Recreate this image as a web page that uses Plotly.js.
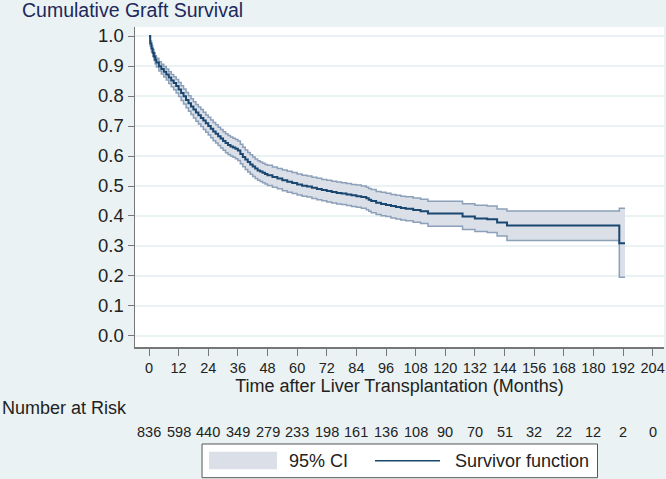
<!DOCTYPE html>
<html>
<head>
<meta charset="utf-8">
<script src="https://cdn.plot.ly/plotly-3.0.1.min.js"></script>
<style>html,body{margin:0;padding:0;background:rgb(234,242,243);}#chart{width:666px;height:479px;}</style>
</head>
<body>
<div id="chart"></div>
<script>
// Kaplan-Meier estimate (months after transplantation)
const timeMonths = [0, 0.5, 1, 1.5, 2, 2.5, 3, 4, 5, 6, 7, 8, 9, 10, 11, 12, 13, 14, 15, 16, 17, 18, 19, 20, 21, 22, 23, 24, 25, 26, 27, 28, 29, 30, 31, 32, 33, 34, 35, 36, 37, 38, 39, 40, 41, 42, 43, 44, 45, 46, 47, 48,
  50, 52, 54, 56, 58, 60, 62, 64, 66, 68, 70, 72, 74, 76, 78, 80, 82, 84, 86, 88, 89, 90, 92, 94, 96, 98, 100, 102, 104, 107, 110, 113, 127, 132, 137, 141, 145, 190.5, 192.8];
const survival = [1.0, 0.975, 0.958, 0.944, 0.932, 0.921, 0.912, 0.899, 0.890, 0.881, 0.872, 0.862, 0.852, 0.843, 0.833, 0.822, 0.810, 0.799, 0.787, 0.776, 0.765, 0.755, 0.745, 0.736, 0.727, 0.718, 0.709, 0.700, 0.691, 0.682, 0.674, 0.666, 0.658, 0.650, 0.643, 0.637, 0.632, 0.628, 0.624, 0.618, 0.607, 0.597, 0.588, 0.580, 0.572, 0.565, 0.558, 0.552, 0.548, 0.544, 0.540, 0.536,
  0.530, 0.525, 0.519, 0.514, 0.510, 0.505, 0.501, 0.498, 0.494, 0.490, 0.487, 0.483, 0.480, 0.477, 0.475, 0.472, 0.469, 0.466, 0.463, 0.459, 0.454, 0.450, 0.444, 0.440, 0.437, 0.433, 0.430, 0.427, 0.424, 0.420, 0.416, 0.408, 0.398, 0.392, 0.389, 0.378, 0.368, 0.309, 0.309];
const ciUpper = [1.0, 0.983, 0.968, 0.955, 0.944, 0.934, 0.926, 0.914, 0.906, 0.898, 0.890, 0.881, 0.872, 0.864, 0.855, 0.845, 0.834, 0.823, 0.812, 0.801, 0.791, 0.781, 0.772, 0.763, 0.755, 0.746, 0.737, 0.729, 0.720, 0.712, 0.704, 0.696, 0.688, 0.681, 0.674, 0.668, 0.663, 0.659, 0.655, 0.650, 0.639, 0.629, 0.620, 0.612, 0.604, 0.597, 0.590, 0.584, 0.580, 0.576, 0.572, 0.569,
  0.563, 0.558, 0.553, 0.549, 0.545, 0.540, 0.536, 0.533, 0.529, 0.526, 0.522, 0.519, 0.516, 0.513, 0.511, 0.508, 0.505, 0.503, 0.500, 0.496, 0.492, 0.488, 0.482, 0.479, 0.476, 0.472, 0.469, 0.466, 0.464, 0.460, 0.456, 0.449, 0.441, 0.436, 0.433, 0.423, 0.417, 0.426, 0.426];
const ciLower = [1.0, 0.966, 0.947, 0.932, 0.919, 0.907, 0.897, 0.883, 0.873, 0.863, 0.853, 0.842, 0.831, 0.821, 0.810, 0.798, 0.785, 0.773, 0.761, 0.749, 0.738, 0.727, 0.716, 0.707, 0.698, 0.688, 0.679, 0.670, 0.661, 0.651, 0.643, 0.635, 0.627, 0.619, 0.611, 0.605, 0.600, 0.596, 0.591, 0.585, 0.574, 0.564, 0.555, 0.547, 0.539, 0.532, 0.525, 0.519, 0.515, 0.511, 0.507, 0.502,
  0.496, 0.491, 0.484, 0.479, 0.475, 0.470, 0.466, 0.463, 0.458, 0.454, 0.451, 0.447, 0.443, 0.440, 0.438, 0.435, 0.432, 0.429, 0.426, 0.421, 0.416, 0.411, 0.405, 0.401, 0.398, 0.393, 0.390, 0.387, 0.384, 0.379, 0.375, 0.366, 0.355, 0.348, 0.345, 0.333, 0.318, 0.196, 0.196];

// Number at risk table
const riskTimes = [0, 12, 24, 36, 48, 60, 72, 84, 96, 108, 120, 132, 144, 156, 168, 180, 192, 204];
const riskCounts = [836, 598, 440, 349, 279, 233, 198, 161, 136, 108, 90, 70, 51, 32, 22, 12, 2, 0];

const titleText = "Cumulative Graft Survival";
const xTitle = "Time after Liver Transplantation (Months)";
const riskLabel = "Number at Risk";
const legendLabels = ["95% CI", "Survivor function"];

const FONT = "Liberation Sans, Arial, sans-serif";
const NAVY = "rgb(26,71,111)";
const BAND = "rgb(218,223,232)";
const BANDEDGE = "rgb(140,160,185)";
const BG = "rgb(234,242,243)";

const traces = [
  {x: timeMonths, y: ciLower, mode: "lines", line: {shape: "hv", color: BANDEDGE, width: 1.5}, hoverinfo: "skip", showlegend: false},
  {x: timeMonths, y: ciUpper, mode: "lines", line: {shape: "hv", color: BANDEDGE, width: 1.5}, fill: "tonexty", fillcolor: BAND, hoverinfo: "skip", showlegend: false},
  {x: timeMonths, y: survival, mode: "lines", line: {shape: "hv", color: NAVY, width: 2}, showlegend: false}
];

const annotations = [];
riskTimes.forEach((t, i) => {
  annotations.push({x: t, xref: "x", y: -0.2656, yref: "paper", text: String(riskCounts[i]), showarrow: false,
    xanchor: "center", yanchor: "middle", font: {family: FONT, size: 14.5, color: "#222"}});
});
annotations.push({x: -0.2552, xref: "paper", y: -0.1906, yref: "paper", text: riskLabel, showarrow: false,
  xanchor: "left", yanchor: "middle", font: {family: FONT, size: 18, color: "#222"}});
annotations.push({x: 0.2873, xref: "paper", y: -0.3547, yref: "paper", text: legendLabels[0], showarrow: false,
  xanchor: "left", yanchor: "middle", font: {family: FONT, size: 18, color: "#222"}});
annotations.push({x: 0.6011, xref: "paper", y: -0.3547, yref: "paper", text: legendLabels[1], showarrow: false,
  xanchor: "left", yanchor: "middle", font: {family: FONT, size: 18, color: "#222"}});

const shapes = [
  {type: "rect", xref: "paper", yref: "paper", x0: 0.1267, x1: 0.8743, y0: -0.4084, y1: -0.3031, line: {color: "#555", width: 1}, fillcolor: "white"},
  {type: "rect", xref: "paper", yref: "paper", x0: 0.1399, x1: 0.2684, y0: -0.3822, y1: -0.3272, line: {width: 0}, fillcolor: BAND},
  {type: "line", xref: "paper", yref: "paper", x0: 0.4537, x1: 0.5766, y0: -0.3553, y1: -0.3553, line: {color: NAVY, width: 1.5}}
];

const layout = {
  width: 666, height: 479,
  margin: {l: 135, r: 2, t: 27, b: 132, pad: 0},
  paper_bgcolor: BG, plot_bgcolor: "white",
  font: {family: FONT, color: "#222"},
  showlegend: false,
  title: {text: titleText, x: 22/666, xref: "container", xanchor: "left", y: 1 - 10/479, yref: "container", yanchor: "middle",
    font: {family: FONT, size: 19.5, color: "rgb(28,40,92)"}},
  xaxis: {range: [-5.67, 208.6], tickmode: "linear", tick0: 0, dtick: 12, ticks: "outside", ticklen: 7, tickwidth: 1,
    tickcolor: "#777", showline: true, linecolor: "#777", linewidth: 1.5, showgrid: false, zeroline: false,
    ticklabeloverflow: "allow",
    tickfont: {family: FONT, size: 14.5, color: "#222"},
    title: {text: xTitle, font: {family: FONT, size: 18, color: "#222"}, standoff: 0}, automargin: false},
  yaxis: {range: [-0.0367, 1.03], tickmode: "linear", tick0: 0, dtick: 0.1, tickformat: ".1f", ticks: "outside", ticklen: 6,
    tickwidth: 1, tickcolor: "#777", showline: true, linecolor: "#777", linewidth: 1.5, showgrid: true, gridcolor: BG,
    gridwidth: 1.2, zeroline: false, tickfont: {family: FONT, size: 18.5, color: "#222"}, automargin: false},
  annotations: annotations,
  shapes: shapes
};

Plotly.newPlot("chart", traces, layout, {displayModeBar: false, staticPlot: true});
</script>
</body>
</html>
